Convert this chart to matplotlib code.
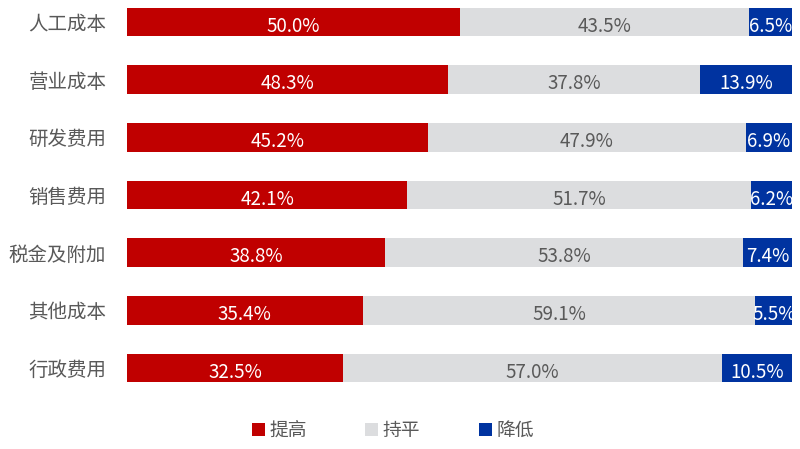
import matplotlib
matplotlib.use("Agg")
import matplotlib.pyplot as plt
from matplotlib.patches import Patch

plt.rcParams['font.family'] = ['Noto Sans CJK SC', 'DejaVu Sans']

categories = ["人工成本", "营业成本", "研发费用", "销售费用", "税金及附加", "其他成本", "行政费用"]
increase = [50.0, 48.3, 45.2, 42.1, 38.8, 35.4, 32.5]
flat = [43.5, 37.8, 47.9, 51.7, 53.8, 59.1, 57.0]
decrease = [6.5, 13.9, 6.9, 6.2, 7.4, 5.5, 10.5]
series_names = ["提高", "持平", "降低"]

colors = ["#C00000", "#DCDDDF", "#0033A0"]
text_colors = ["white", "#595959", "white"]

fig = plt.figure(figsize=(8, 4.49), dpi=100)
ax = fig.add_axes([0.159, 0.109, 0.831, 0.891])

ys = list(range(len(categories)))
left = [0.0] * len(categories)
for vals, c, tc in zip([increase, flat, decrease], colors, text_colors):
    ax.barh(ys, vals, left=left, height=0.5, color=c, edgecolor='none')
    for y, l, v in zip(ys, left, vals):
        ax.text(l + v / 2, y + 0.07, f"{v:.1f}%", ha='center', va='center',
                color=tc, fontsize=13.5)
    left = [a + b for a, b in zip(left, vals)]

ax.set_xlim(0, 100)
ax.set_ylim(6.555, -0.381)
ax.set_yticks(ys)
ax.set_yticklabels(categories, fontsize=14, color="#595959")
ax.tick_params(axis='y', length=0, pad=15)
ax.set_xticks([])
for s in ax.spines.values():
    s.set_visible(False)

handles = [Patch(facecolor=c, edgecolor='none') for c in colors]
fig.legend(handles, series_names, loc='center', bbox_to_anchor=(0.491, 0.042),
           ncol=3, frameon=False, fontsize=13.5, handlelength=0.7, handleheight=0.7,
           handletextpad=0.25, columnspacing=3.1, labelcolor="#595959")

fig.savefig("out.png", dpi=100)
